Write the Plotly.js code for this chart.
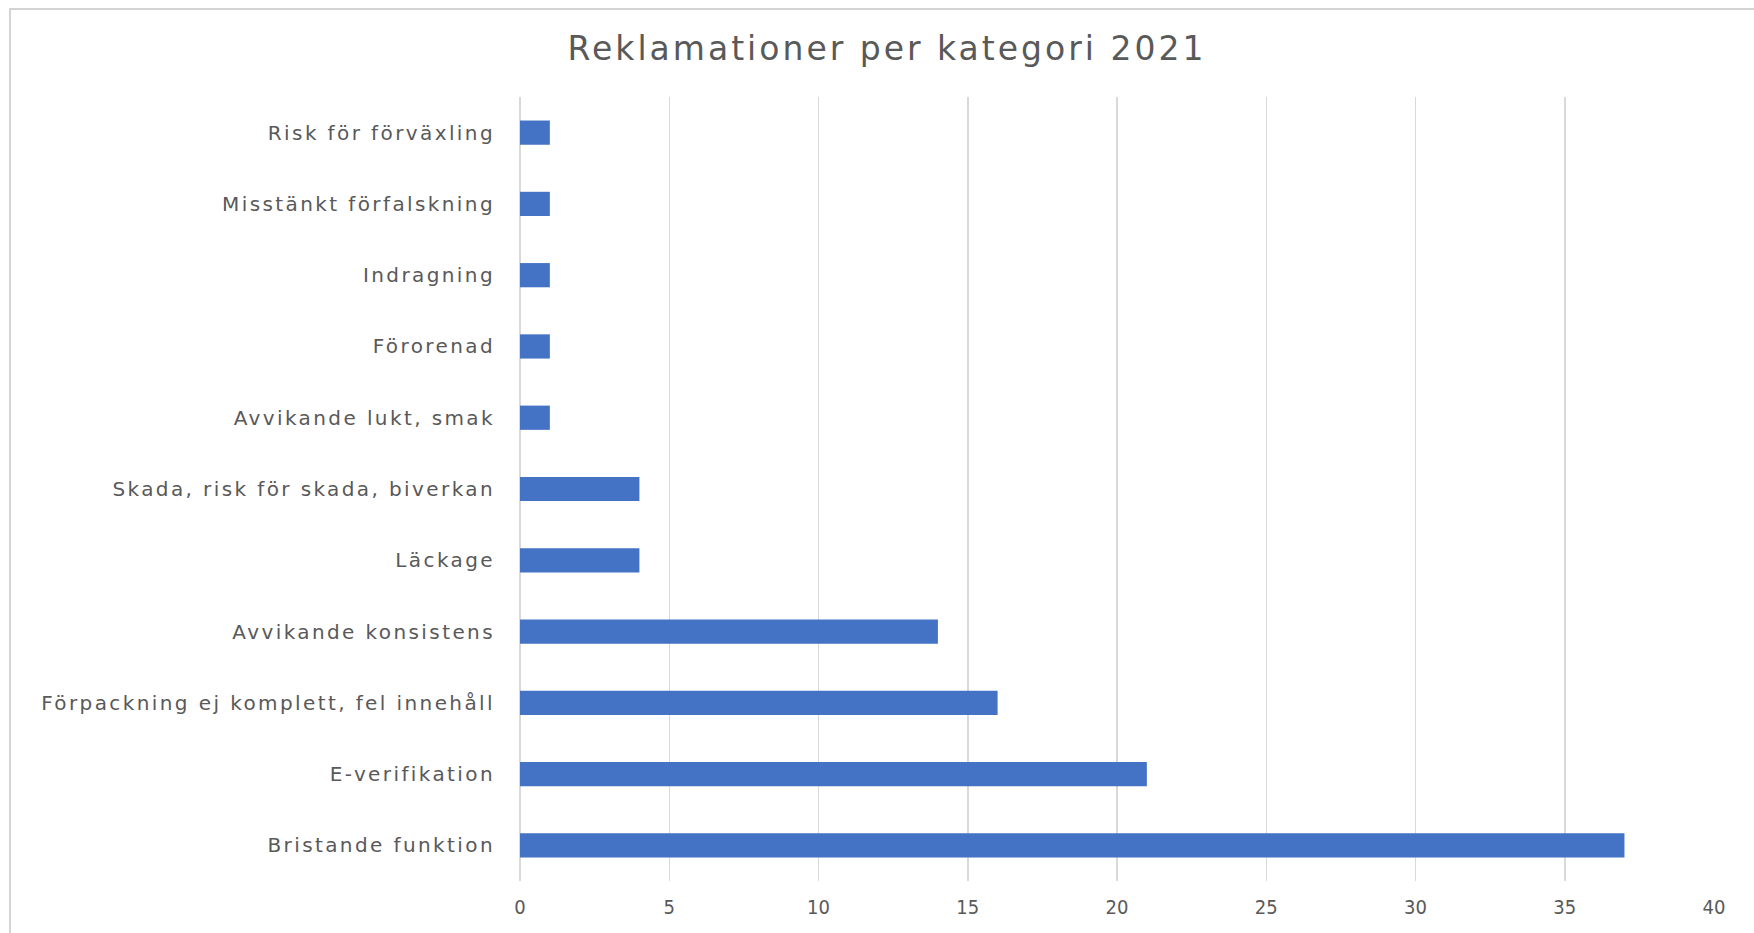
<!DOCTYPE html>
<html>
<head>
<meta charset="utf-8">
<script src="https://cdn.plot.ly/plotly-3.0.1.min.js"></script>
<style>
html,body{margin:0;padding:0;background:#fff;}
#chart{width:1754px;height:933px;}
.ytick text{letter-spacing:2.4px;}
.gtitle{letter-spacing:3px;}
</style>
</head>
<body>
<div id="chart"></div>
<script>
const categories = [
  "Bristande funktion",
  "E-verifikation",
  "Förpackning ej komplett, fel innehåll",
  "Avvikande konsistens",
  "Läckage",
  "Skada, risk för skada, biverkan",
  "Avvikande lukt, smak",
  "Förorenad",
  "Indragning",
  "Misstänkt förfalskning",
  "Risk för förväxling"
];
const values = [37, 21, 16, 14, 4, 4, 1, 1, 1, 1, 1];
const xTicks = [0, 5, 10, 15, 20, 25, 30, 35, 40];
const chartTitle = "Reklamationer per kategori 2021";

const trace = {
  type: "bar",
  orientation: "h",
  y: categories,
  x: values,
  marker: {color: "#4472C4"},
  hoverinfo: "x+y"
};

const layout = {
  width: 1754,
  height: 933,
  margin: {l: 520, r: 40, t: 97, b: 52},
  paper_bgcolor: "#ffffff",
  plot_bgcolor: "#ffffff",
  bargap: 0.66,
  showlegend: false,
  title: {
    text: chartTitle,
    x: 0.5057, xref: "container", xanchor: "center",
    y: 0.9486, yref: "container", yanchor: "middle",
    font: {family: "DejaVu Sans, sans-serif", size: 33, color: "#595959"}
  },
  xaxis: {
    range: [0, 40],
    tickvals: xTicks,
    ticktext: xTicks.map(String),
    showgrid: true,
    gridcolor: "#d9d9d9",
    gridwidth: 1.5,
    zeroline: true,
    zerolinecolor: "#d9d9d9",
    zerolinewidth: 1.5,
    showline: false,
    ticks: "",
    ticklabelstandoff: 12,
    tickfont: {family: "DejaVu Sans Condensed, sans-serif", size: 20, color: "#595959"},
    fixedrange: true
  },
  yaxis: {
    type: "category",
    categoryorder: "array",
    categoryarray: categories,
    showgrid: false,
    zeroline: false,
    showline: false,
    ticks: "",
    ticklabelstandoff: 24,
    tickfont: {family: "DejaVu Sans, sans-serif", size: 20, color: "#595959"},
    fixedrange: true
  },
  shapes: [{
    type: "rect",
    xref: "paper", yref: "paper",
    x0: -0.4271, x1: 1.04, y0: -0.08, y1: 1.1122,
    line: {color: "#d4d4d4", width: 2},
    fillcolor: "rgba(0,0,0,0)",
    layer: "below"
  }]
};

Plotly.newPlot("chart", [trace], layout, {displayModeBar: false, staticPlot: true});
</script>
</body>
</html>
